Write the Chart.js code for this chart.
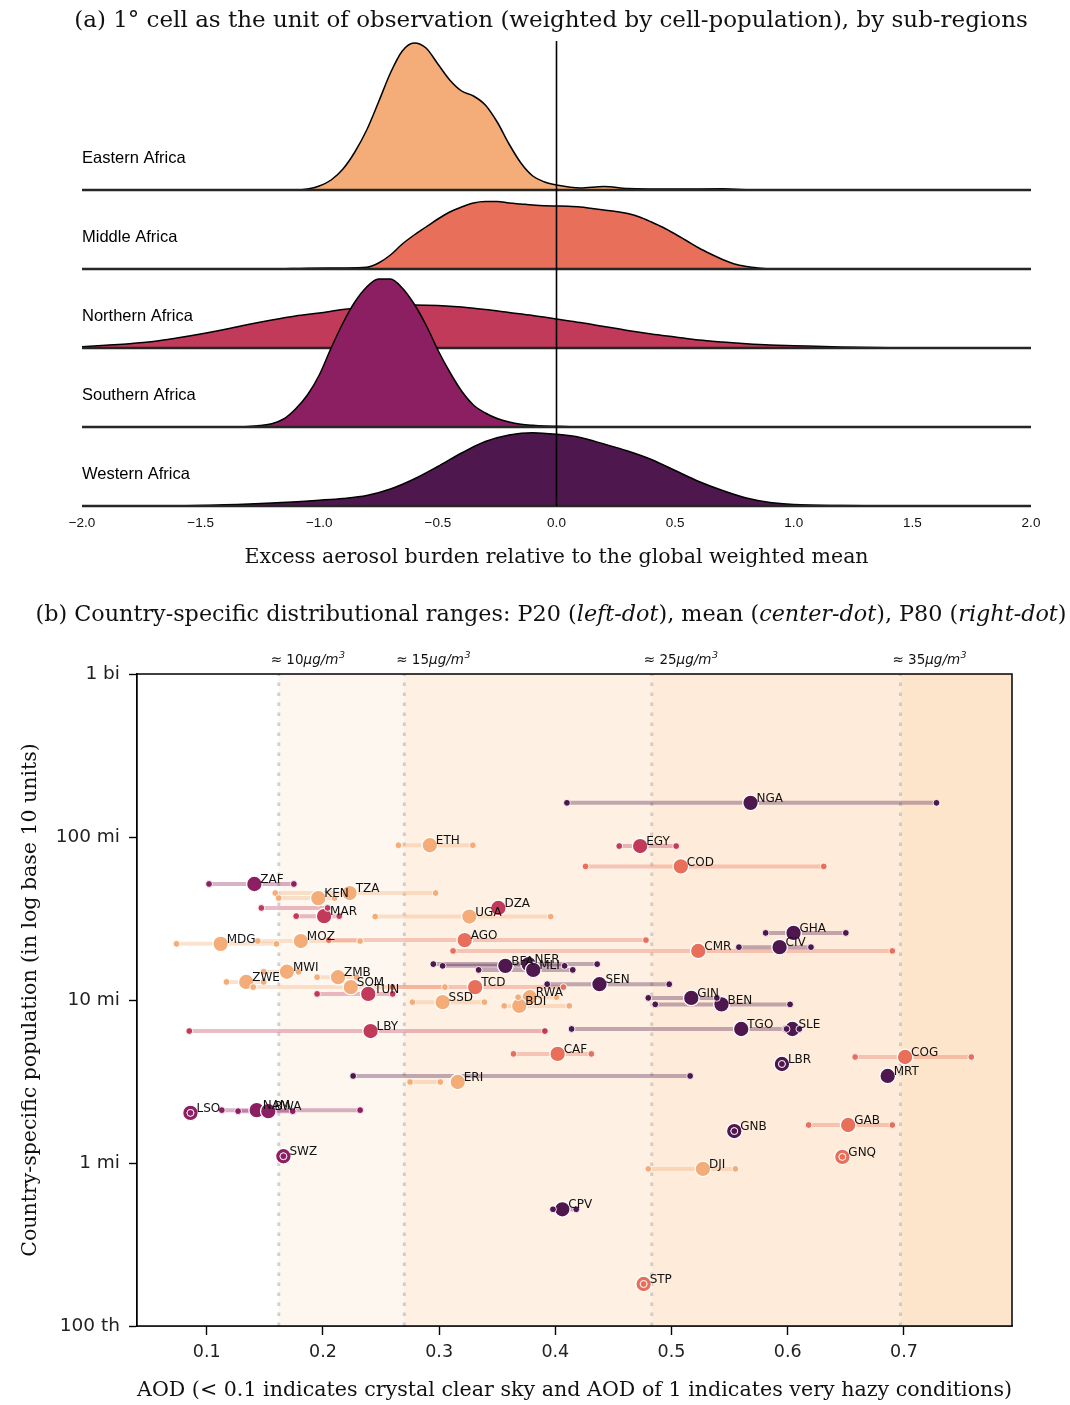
<!DOCTYPE html>
<html>
<head>
<meta charset="utf-8">
<script src="https://cdn.jsdelivr.net/npm/chart.js"></script>
<style>
  html, body { margin: 0; padding: 0; background: #fff; }
  #page { position: relative; width: 1070px; height: 1405px; overflow: hidden; }
  canvas { position: absolute; left: 0; }
  .panel-title {
    position: absolute; left: 32px; width: 1038px; text-align: center;
    font-family: 'DejaVu Serif', serif; color: #111; white-space: nowrap;
  }
</style>
</head>
<body>
<div id="page">
  <canvas id="ridgeChart" width="1070" height="580" style="top:0"></canvas>
  <canvas id="rangeChart" width="1070" height="825" style="top:580px"></canvas>
  <div class="panel-title" style="top:6px; font-size:23px">(a) 1° cell as the unit of observation (weighted by cell-population), by sub-regions</div>
  <div class="panel-title" style="top:600px; font-size:22.3px">(b) Country-specific distributional ranges: P20 (<i>left-dot</i>), mean (<i>center-dot</i>), P80 (<i>right-dot</i>)</div>
</div>
<script>
// ---------- shared ----------
const REGIONS = ['Eastern Africa', 'Middle Africa', 'Northern Africa', 'Southern Africa', 'Western Africa'];
const REGION_COLORS = ['#f4ad78', '#e8705a', '#c13a5a', '#8c1e62', '#4e174d'];
const REGION_RGB = ['244,173,120', '232,112,90', '193,58,90', '140,30,98', '78,23,77'];

// ---------- panel (a): densities ----------
const RIDGE_GAP = 79; // offset between ridge baselines, in density units

const easternX = [-2.0, -1.1, -1.05, -1.0, -0.95, -0.9, -0.85, -0.8, -0.75, -0.7, -0.65, -0.6, -0.55, -0.5, -0.45, -0.4, -0.35, -0.3, -0.25, -0.2, -0.15, -0.1, -0.05, 0.0, 0.1, 0.2, 0.3, 0.5, 0.7, 0.85, 2.0];
const easternDensity = [0, 0, 1, 4, 10, 21, 38, 60, 88, 117, 139, 147, 142, 126, 110, 99, 94, 85, 68, 46, 27, 14, 8, 5, 2, 3.5, 1.5, 1, 1.2, 0, 0];

const middleX = [-2.0, -1.2, -1.05, -0.9, -0.8, -0.75, -0.7, -0.65, -0.6, -0.55, -0.5, -0.45, -0.4, -0.35, -0.3, -0.25, -0.2, -0.15, -0.1, -0.05, 0.0, 0.05, 0.1, 0.15, 0.2, 0.25, 0.3, 0.35, 0.4, 0.45, 0.5, 0.55, 0.6, 0.65, 0.7, 0.75, 0.8, 0.85, 0.9, 2.0];
const middleDensity = [0, 0, 0.8, 1, 1.7, 6, 14, 25, 34, 42, 50, 57, 62, 66, 67.5, 67.5, 66, 65, 64, 63.3, 63, 62.7, 62, 60.5, 59, 57.5, 55.5, 52, 47, 41.5, 35, 28, 21, 15, 9.5, 5, 2.5, 1, 0, 0];

const northernX = [-2.0, -1.9, -1.8, -1.7, -1.6, -1.5, -1.4, -1.3, -1.2, -1.1, -1.0, -0.9, -0.8, -0.7, -0.6, -0.5, -0.4, -0.3, -0.2, -0.1, 0.0, 0.1, 0.2, 0.3, 0.4, 0.5, 0.6, 0.7, 0.8, 0.9, 1.0, 1.2, 1.4, 1.6, 2.0];
const northernDensity = [1.3, 2.8, 4.3, 6.5, 10, 14, 18.5, 23.5, 28, 32, 35, 38.5, 41, 42.5, 43, 42.5, 41, 38.5, 35.5, 32.5, 29, 25.5, 21.5, 17.5, 14, 11, 8, 6, 4.3, 3, 2.3, 1, 0.3, 0, 0];

const southernX = [-2.0, -1.35, -1.3, -1.25, -1.2, -1.15, -1.1, -1.05, -1.0, -0.95, -0.9, -0.85, -0.8, -0.75, -0.7, -0.65, -0.6, -0.55, -0.5, -0.45, -0.4, -0.35, -0.3, -0.25, -0.2, -0.15, -0.1, -0.05, 0.0, 0.1, 2.0];
const southernDensity = [0, 0, 0.5, 1.5, 3.3, 8, 18, 32, 52, 79, 104, 125, 140, 148, 148, 139, 123, 102, 77, 55, 36, 22, 14, 8.5, 5, 2.8, 1.7, 1, 0.7, 0, 0];

const westernX = [-2.0, -1.6, -1.4, -1.2, -1.0, -0.9, -0.8, -0.7, -0.6, -0.5, -0.4, -0.3, -0.2, -0.1, 0.0, 0.1, 0.2, 0.3, 0.4, 0.5, 0.6, 0.7, 0.8, 0.9, 1.0, 1.2, 1.4, 2.0];
const westernDensity = [0, 0.2, 1.2, 3, 5.8, 7.5, 10.5, 17, 27, 39.5, 53, 64.5, 71, 73.3, 71.7, 68.5, 62, 55, 46.5, 35.5, 24.5, 15.5, 8, 3.5, 1.5, 0.4, 0, 0];

const excessTicks = [-2.0, -1.5, -1.0, -0.5, 0.0, 0.5, 1.0, 1.5, 2.0];

// ---------- panel (b): country ranges ----------
const countryCodes = ['NGA', 'EGY', 'COD', 'ETH', 'ZAF', 'TZA', 'KEN', 'DZA', 'MAR', 'UGA',
  'AGO', 'MOZ', 'MDG', 'GHA', 'CIV', 'CMR', 'BFA', 'NER', 'MLI', 'SEN',
  'TCD', 'SOM', 'ZWE', 'MWI', 'ZMB', 'TUN', 'SSD', 'RWA', 'BDI', 'GIN',
  'BEN', 'LBY', 'TGO', 'SLE', 'CAF', 'COG', 'LBR', 'MRT', 'ERI', 'LSO',
  'NAM', 'BWA', 'SWZ', 'GNB', 'GAB', 'GNQ', 'DJI', 'CPV', 'STP'];
// 0 Eastern, 1 Middle, 2 Northern, 3 Southern, 4 Western
const countryRegion = [4, 2, 1, 0, 3, 0, 0, 2, 2, 0,
  1, 0, 0, 4, 4, 1, 4, 4, 4, 4,
  1, 0, 0, 0, 0, 2, 0, 0, 0, 4,
  4, 2, 4, 4, 1, 1, 4, 4, 0, 3,
  3, 3, 3, 4, 1, 1, 0, 4, 1];
const aodMean = [0.568, 0.473, 0.508, 0.292, 0.141, 0.223, 0.196, 0.351, 0.201, 0.326,
  0.322, 0.181, 0.112, 0.605, 0.593, 0.523, 0.357, 0.377, 0.381, 0.438,
  0.331, 0.224, 0.134, 0.169, 0.213, 0.239, 0.303, 0.378, 0.369, 0.517,
  0.543, 0.241, 0.560, 0.604, 0.402, 0.701, 0.595, 0.686, 0.316, 0.086,
  0.143, 0.153, 0.166, 0.554, 0.652, 0.647, 0.527, 0.406, 0.476];
const aodP20 = [0.410, 0.455, 0.426, 0.265, 0.102, 0.159, 0.162, 0.147, 0.177, 0.245,
  0.205, 0.144, 0.074, 0.581, 0.558, 0.312, 0.303, 0.295, 0.334, 0.393,
  0.260, 0.140, 0.117, 0.149, 0.195, 0.195, 0.277, 0.368, 0.356, 0.480,
  0.486, 0.085, 0.414, 0.599, 0.364, 0.658, 0.595, 0.226, 0.275, 0.086,
  0.113, 0.127, 0.166, 0.554, 0.618, 0.647, 0.480, 0.398, 0.476];
const aodP80 = [0.728, 0.504, 0.631, 0.329, 0.175, 0.297, 0.210, 0.204, 0.214, 0.396,
  0.478, 0.232, 0.160, 0.650, 0.620, 0.690, 0.408, 0.436, 0.415, 0.498,
  0.407, 0.305, 0.149, 0.179, 0.229, 0.260, 0.339, 0.401, 0.412, 0.539,
  0.602, 0.391, 0.598, 0.610, 0.431, 0.758, 0.595, 0.516, 0.301, 0.086,
  0.232, 0.174, 0.166, 0.554, 0.690, 0.647, 0.555, 0.418, 0.476];
const population = [162e6, 88e6, 66e6, 89e6, 51.5e6, 45.3e6, 42.2e6, 36.7e6, 32.7e6, 32.5e6,
  23.3e6, 23.0e6, 22.1e6, 25.8e6, 21.1e6, 20.0e6, 16.2e6, 16.6e6, 15.3e6, 12.5e6,
  12.0e6, 12.0e6, 12.9e6, 14.9e6, 13.8e6, 10.9e6, 9.7e6, 10.4e6, 9.2e6, 10.3e6,
  9.4e6, 6.45e6, 6.64e6, 6.64e6, 4.67e6, 4.47e6, 4.05e6, 3.42e6, 3.14e6, 2.03e6,
  2.11e6, 2.08e6, 1.10e6, 1.57e6, 1.71e6, 1.09e6, 0.92e6, 0.52e6, 0.181e6];

const aodTicks = [0.1, 0.2, 0.3, 0.4, 0.5, 0.6, 0.7];
const popTicks = [1e5, 1e6, 1e7, 1e8, 1e9];
const popTickLabels = ['100 th', '1 mi', '10 mi', '100 mi', '1 bi'];
const pmThresholds = [0.162, 0.270, 0.483, 0.697];
const pmLabels = ['10', '15', '25', '35'];
const BAND_COLORS = ['#ffffff', '#fef7f0', '#fef0e2', '#feebd9', '#fde5cb'];

Chart.defaults.font.family = 'DejaVu Sans';
Chart.defaults.color = '#111';
Chart.defaults.animation = false;

// ---------- panel (a) ----------
const ridgeSeries = [
  { x: easternX, d: easternDensity },
  { x: middleX, d: middleDensity },
  { x: northernX, d: northernDensity },
  { x: southernX, d: southernDensity },
  { x: westernX, d: westernDensity }
];

const ridgeDatasets = [];
ridgeSeries.forEach((s, i) => {
  const base = (REGIONS.length - 1 - i) * RIDGE_GAP;
  ridgeDatasets.push({
    label: REGIONS[i],
    data: s.x.map((x, k) => ({ x: x, y: base + s.d[k] })),
    borderColor: '#000',
    borderWidth: 1.5,
    backgroundColor: REGION_COLORS[i],
    fill: { value: base },
    pointRadius: 0,
    cubicInterpolationMode: 'monotone',
    order: 100 - i * 10
  });
  ridgeDatasets.push({
    data: [{ x: -2, y: base }, { x: 2, y: base }],
    borderColor: '#262626',
    borderWidth: 2.6,
    pointRadius: 0,
    fill: false,
    clip: false,
    order: 99 - i * 10
  });
});
// zero reference line
ridgeDatasets.push({
  data: [{ x: 0, y: 0 }, { x: 0, y: 465 }],
  borderColor: '#000',
  borderWidth: 1.6,
  pointRadius: 0,
  fill: false,
  order: 0
});

const ridgeLabels = {
  id: 'ridgeLabels',
  afterDatasetsDraw(chart) {
    const { ctx, scales: { x, y } } = chart;
    ctx.save();
    ctx.font = '16.5px "Liberation Sans"';
    ctx.fillStyle = '#000';
    ctx.textBaseline = 'middle';
    REGIONS.forEach((name, i) => {
      const base = (REGIONS.length - 1 - i) * RIDGE_GAP;
      ctx.fillText(name, x.getPixelForValue(-2), y.getPixelForValue(base + 32));
    });
    ctx.restore();
  }
};

new Chart(document.getElementById('ridgeChart'), {
  type: 'line',
  data: { datasets: ridgeDatasets },
  options: {
    responsive: false,
    layout: { padding: { left: 82, right: 39, top: 41, bottom: 0 } },
    plugins: { legend: { display: false }, tooltip: { enabled: false } },
    scales: {
      x: {
        type: 'linear',
        min: -2, max: 2,
        afterBuildTicks: (scale) => { scale.ticks = excessTicks.map(v => ({ value: v })); },
        afterFit: (scale) => { scale.height = 74; },
        grid: { display: false, drawTicks: false },
        border: { display: false },
        ticks: {
          padding: 9,
          font: { family: 'Liberation Sans', size: 13.5 },
          color: '#111',
          maxRotation: 0,
          callback: (v) => v.toFixed(1).replace('-', '\u2212')
        },
        title: {
          display: true,
          text: 'Excess aerosol burden relative to the global weighted mean',
          font: { family: 'DejaVu Serif', size: 20.5 },
          color: '#111',
          padding: { top: 0, bottom: 10 }
        }
      },
      y: { display: false, min: 0, max: 465 }
    }
  },
  plugins: [ridgeLabels]
});

// ---------- panel (b) ----------
const rangeDatasets = [];

// threshold dotted lines
pmThresholds.forEach(t => {
  rangeDatasets.push({
    data: [{ x: t, y: 1e5 }, { x: t, y: 1e9 }],
    showLine: true,
    borderColor: 'rgba(175,175,175,0.55)',
    borderWidth: 3,
    borderDash: [3.5, 6.5],
    pointRadius: 0,
    order: 20
  });
});

// P20 - P80 ranges
countryCodes.forEach((code, i) => {
  rangeDatasets.push({
    data: [{ x: aodP20[i], y: population[i] }, { x: aodP80[i], y: population[i] }],
    showLine: true,
    borderColor: 'rgba(' + REGION_RGB[countryRegion[i]] + ',0.34)',
    borderWidth: 4,
    pointRadius: 0,
    order: 5
  });
});

REGIONS.forEach((name, r) => {
  const idx = countryCodes.map((c, i) => i).filter(i => countryRegion[i] === r);
  rangeDatasets.push({
    label: name + ' mean',
    data: idx.map(i => ({ x: aodMean[i], y: population[i] })),
    pointRadius: 7.8,
    pointBackgroundColor: REGION_COLORS[r],
    pointBorderColor: '#fff',
    pointBorderWidth: 1.3,
    order: 3
  });
  const ends = [];
  idx.forEach(i => {
    ends.push({ x: aodP20[i], y: population[i] });
    ends.push({ x: aodP80[i], y: population[i] });
  });
  rangeDatasets.push({
    label: name + ' P20/P80',
    data: ends,
    pointRadius: 3.4,
    pointBackgroundColor: REGION_COLORS[r],
    pointBorderColor: '#fff',
    pointBorderWidth: 0.9,
    order: 1
  });
});

const aodBands = {
  id: 'aodBands',
  beforeDatasetsDraw(chart) {
    const { ctx, chartArea: a, scales: { x } } = chart;
    const edges = [x.min].concat(pmThresholds, [x.max]);
    ctx.save();
    for (let i = 0; i < edges.length - 1; i++) {
      const x0 = x.getPixelForValue(edges[i]);
      const x1 = x.getPixelForValue(edges[i + 1]);
      ctx.fillStyle = BAND_COLORS[i];
      ctx.fillRect(x0, a.top, x1 - x0, a.bottom - a.top);
    }
    ctx.restore();
  }
};

const countryLabels = {
  id: 'countryLabels',
  afterDatasetsDraw(chart) {
    const { ctx, scales: { x, y } } = chart;
    ctx.save();
    ctx.font = '12px "DejaVu Sans"';
    ctx.fillStyle = '#111';
    ctx.textBaseline = 'middle';
    countryCodes.forEach((code, i) => {
      ctx.fillText(code, x.getPixelForValue(aodMean[i]) + 6, y.getPixelForValue(population[i]) - 4);
    });
    ctx.restore();
  }
};

const frameAndNotes = {
  id: 'frameAndNotes',
  afterDraw(chart) {
    const { ctx, chartArea: a, scales: { x } } = chart;
    ctx.save();
    ctx.strokeStyle = '#000';
    ctx.lineWidth = 1.5;
    ctx.strokeRect(a.left, a.top, a.right - a.left, a.bottom - a.top);
    // threshold notes above the frame
    ctx.fillStyle = '#111';
    ctx.textBaseline = 'alphabetic';
    pmThresholds.forEach((t, i) => {
      let px = x.getPixelForValue(t) - 8;
      const yb = a.top - 10;
      ctx.font = '13.5px "DejaVu Sans"';
      const head = '\u2248 ' + pmLabels[i];
      ctx.fillText(head, px, yb);
      px += ctx.measureText(head).width;
      ctx.font = 'italic 13.5px "DejaVu Sans"';
      ctx.fillText('\u03bcg/m', px, yb);
      px += ctx.measureText('\u03bcg/m').width;
      ctx.font = 'italic 9.5px "DejaVu Sans"';
      ctx.fillText('3', px + 0.5, yb - 6);
    });
    ctx.restore();
  }
};

new Chart(document.getElementById('rangeChart'), {
  type: 'scatter',
  data: { datasets: rangeDatasets },
  options: {
    responsive: false,
    layout: { padding: { left: 0, right: 58, top: 94, bottom: 0 } },
    plugins: { legend: { display: false }, tooltip: { enabled: false } },
    scales: {
      x: {
        type: 'linear',
        min: 0.04, max: 0.793,
        afterBuildTicks: (scale) => { scale.ticks = aodTicks.map(v => ({ value: v })); },
        afterFit: (scale) => { scale.height = 79; },
        grid: { drawOnChartArea: false, drawTicks: true, tickLength: 9, tickColor: '#000', tickWidth: 1.4 },
        border: { display: true, color: '#000', width: 1.5 },
        ticks: { padding: 7, font: { size: 17.5 }, color: '#222', callback: (v) => v.toFixed(1) },
        title: {
          display: true,
          align: 'start',
          text: 'AOD (< 0.1 indicates crystal clear sky and AOD of 1 indicates very hazy conditions)',
          font: { family: 'DejaVu Serif', size: 20.9 },
          color: '#111',
          padding: { top: 0, bottom: 2 }
        }
      },
      y: {
        type: 'logarithmic',
        min: 1e5, max: 1e9,
        afterBuildTicks: (scale) => { scale.ticks = popTicks.map(v => ({ value: v })); },
        afterFit: (scale) => { scale.width = 137; },
        grid: { drawOnChartArea: false, drawTicks: true, tickLength: 8, tickColor: '#000', tickWidth: 1.4 },
        border: { display: true, color: '#000', width: 1.5 },
        ticks: { padding: 9, font: { size: 18.5 }, color: '#222', callback: (v, i) => popTickLabels[i] },
        title: {
          display: true,
          text: 'Country-specific population (in log base 10 units)',
          font: { family: 'DejaVu Serif', size: 20.5 },
          color: '#111',
          padding: { top: 18, bottom: 0 }
        }
      }
    }
  },
  plugins: [aodBands, countryLabels, frameAndNotes]
});
</script>
</body>
</html>
